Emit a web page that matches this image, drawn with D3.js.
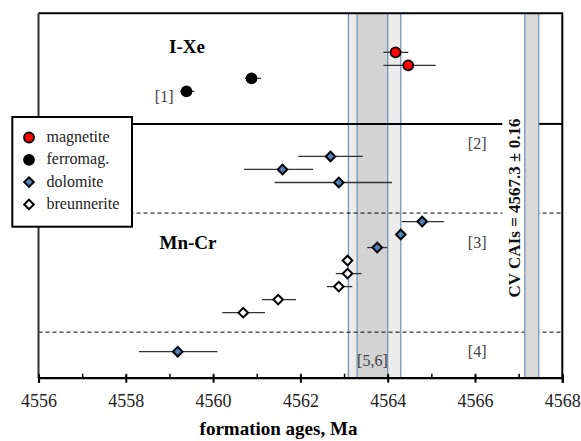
<!DOCTYPE html>
<html>
<head>
<meta charset="utf-8">
<script src="https://cdn.jsdelivr.net/npm/d3@7"></script>
<style>
  body { margin: 0; background: #fff; }
  svg text { font-family: "Liberation Serif", "Times New Roman", Times, serif; }
</style>
</head>
<body>
<div id="chart"></div>
<script>
// formation ages (Ma), row = vertical slot in the plot, errLo/errHi in Ma
const magnetiteAge = [4564.18, 4564.47];
const magnetiteRow = [25, 24];
const magnetiteErrLo = [0.28, 0.57];
const magnetiteErrHi = [0.29, 0.63];

const ferromagAge = [4559.39, 4560.88];
const ferromagRow = [22, 23];
const ferromagErrLo = [0.15, 0.15];
const ferromagErrHi = [0.18, 0.22];

const dolomiteAge = [4562.69, 4561.59, 4562.88, 4564.79, 4564.30, 4563.76, 4559.19];
const dolomiteRow = [17, 16, 15, 12, 11, 10, 2];
const dolomiteErrLo = [0.74, 0.88, 1.47, 0.47, 0.1, 0.23, 0.89];
const dolomiteErrHi = [0.74, 0.70, 1.22, 0.50, 0.1, 0.23, 0.91];

const breunAge = [4563.08, 4563.08, 4562.88, 4561.49, 4560.69];
const breunRow = [9, 8, 7, 6, 5];
const breunErrLo = [0.0, 0.27, 0.27, 0.37, 0.48];
const breunErrHi = [0.0, 0.32, 0.31, 0.41, 0.50];

const legendNames = ["magnetite", "ferromag.", "dolomite", "breunnerite"];
const xTicks = [4556, 4558, 4560, 4562, 4564, 4566, 4568];

// reference bands: [5,6] and CV CAIs = 4567.3 +- 0.16
const band56Outer = [4563.1, 4564.3];
const band56Inner = [4563.3, 4564.0];
const caiAge = 4567.3, caiErr = 0.16;

const serif = '"Liberation Serif", "Times New Roman", Times, serif';
const width = 581, height = 441;
const svg = d3.select("#chart").append("svg")
    .attr("width", width).attr("height", height)
    .style("font-family", serif);

const x = d3.scaleLinear().domain([4556, 4568]).range([38.5, 562.3]);
const y = d3.scaleLinear().domain([0, 28]).range([377.7, 13.3]);

const blueLine = "#6f8db5";

// bands
svg.append("rect")
    .attr("x", x(band56Outer[0])).attr("y", y(28))
    .attr("width", x(band56Outer[1]) - x(band56Outer[0]))
    .attr("height", y(0) - y(28))
    .attr("fill", "#ececec");
svg.append("rect")
    .attr("x", x(band56Inner[0])).attr("y", y(28))
    .attr("width", x(band56Inner[1]) - x(band56Inner[0]))
    .attr("height", y(0) - y(28))
    .attr("fill", "#d3d3d3");
svg.selectAll(".bandline")
    .data([band56Outer[0], band56Inner[0], band56Inner[1], band56Outer[1]])
    .enter().append("line")
    .attr("x1", d => x(d)).attr("x2", d => x(d))
    .attr("y1", y(28)).attr("y2", y(0))
    .attr("stroke", blueLine).attr("stroke-width", 1.2);

// separator lines
svg.append("line")
    .attr("x1", x(4556)).attr("x2", 502.5)
    .attr("y1", y(19.5)).attr("y2", y(19.5))
    .attr("stroke", "#000").attr("stroke-width", 2);
svg.append("line")
    .attr("x1", x(caiAge + caiErr)).attr("x2", x(4568))
    .attr("y1", y(19.5)).attr("y2", y(19.5))
    .attr("stroke", "#000").attr("stroke-width", 2);
svg.selectAll(".dash")
    .data([12.65, 3.5])
    .enter().append("line")
    .attr("x1", x(4556)).attr("x2", x(4568))
    .attr("y1", d => y(d)).attr("y2", d => y(d))
    .attr("stroke", "#000").attr("stroke-width", 1)
    .attr("stroke-dasharray", "4,3");

// white box behind CAI label
svg.append("rect")
    .attr("x", 502.5).attr("y", 116)
    .attr("width", x(caiAge - caiErr) - 502.5).attr("height", 186)
    .attr("fill", "#fff");

// CAI band
svg.append("rect")
    .attr("x", x(caiAge - caiErr)).attr("y", y(28))
    .attr("width", x(caiAge + caiErr) - x(caiAge - caiErr))
    .attr("height", y(0) - y(28))
    .attr("fill", "#d9d9d9");
svg.selectAll(".cailine")
    .data([caiAge - caiErr, caiAge + caiErr])
    .enter().append("line")
    .attr("x1", d => x(d)).attr("x2", d => x(d))
    .attr("y1", y(28)).attr("y2", y(0))
    .attr("stroke", blueLine).attr("stroke-width", 1.2);

svg.append("text")
    .attr("transform", `translate(${x(caiAge - caiErr) - 4.5},208) rotate(-90)`)
    .attr("text-anchor", "middle")
    .attr("font-size", 17).attr("font-weight", "bold")
    .attr("fill", "#111")
    .text("CV CAIs = 4567.3 \u00b1 0.16");

// frame: top, right
svg.append("path")
    .attr("d", `M${x(4556)},${y(28)}H${x(4568)}V${y(0)}`)
    .attr("fill", "none").attr("stroke", "#000").attr("stroke-width", 2);
svg.append("line")
    .attr("x1", x(4556)).attr("x2", x(4556))
    .attr("y1", y(28)).attr("y2", y(0))
    .attr("stroke", "#333").attr("stroke-width", 2);

// x axis: minor inside ticks + major crossing ticks
svg.append("g")
    .attr("transform", `translate(0,${y(0)})`)
    .call(d3.axisBottom(x).tickValues(d3.range(4556, 4569, 1)).tickSize(-4).tickFormat(""))
    .call(g => g.select(".domain").remove())
    .call(g => g.selectAll("line").attr("stroke", "#000").attr("stroke-width", 1.5));
const xAxis = svg.append("g")
    .attr("transform", `translate(0,${y(0)})`)
    .call(d3.axisBottom(x).tickValues(xTicks).tickSize(5).tickPadding(12).tickFormat(d3.format("d")))
    .attr("font-family", null);
xAxis.select(".domain").attr("stroke", "#000").attr("stroke-width", 2.2);
xAxis.selectAll(".tick line").attr("stroke", "#000").attr("stroke-width", 2)
    .attr("y1", -3);
xAxis.selectAll(".tick text")
    .style("font-family", serif)
    .attr("font-size", 18).attr("fill", "#222");

svg.append("text")
    .attr("x", 278.5).attr("y", 435)
    .attr("text-anchor", "middle")
    .attr("font-size", 19).attr("font-weight", "bold")
    .text("formation ages, Ma");

// group labels
svg.append("text").attr("x", 187).attr("y", 52.7)
    .attr("text-anchor", "middle").attr("font-size", 19).attr("font-weight", "bold")
    .text("I-Xe");
svg.append("text").attr("x", 188).attr("y", 249.3)
    .attr("text-anchor", "middle").attr("font-size", 19).attr("font-weight", "bold")
    .text("Mn-Cr");

// references
const refs = svg.append("g").attr("font-size", 16).attr("fill", "#404040");
refs.append("text").attr("x", x(ferromagAge[0]) - 13).attr("y", y(ferromagRow[0]) + 10.5)
    .attr("text-anchor", "end").text("[1]");
refs.append("text").attr("x", x(4566.05)).attr("y", y(17.6)).attr("text-anchor", "middle").text("[2]");
refs.append("text").attr("x", x(4566.05)).attr("y", y(10)).attr("text-anchor", "middle").text("[3]");
refs.append("text").attr("x", x(4566.05)).attr("y", y(1.6)).attr("text-anchor", "middle").text("[4]");
refs.append("text").attr("x", (x(band56Inner[0]) + x(band56Inner[1])) / 2).attr("y", y(0.87))
    .attr("text-anchor", "middle").text("[5,6]");

// series
const series = [
    {age: magnetiteAge, row: magnetiteRow, lo: magnetiteErrLo, hi: magnetiteErrHi, shape: "circle", fill: "#ff0000"},
    {age: ferromagAge, row: ferromagRow, lo: ferromagErrLo, hi: ferromagErrHi, shape: "circle", fill: "#000"},
    {age: dolomiteAge, row: dolomiteRow, lo: dolomiteErrLo, hi: dolomiteErrHi, shape: "diamond", fill: "#4f81bd"},
    {age: breunAge, row: breunRow, lo: breunErrLo, hi: breunErrHi, shape: "diamond", fill: "#fff"}
];

const diamond = d3.symbol().type(d3.symbolSquare).size(46);

function marker(sel, s, cx, cy) {
    if (s.shape === "circle") {
        sel.append("circle").attr("cx", cx).attr("cy", cy).attr("r", 5)
            .attr("fill", s.fill).attr("stroke", "#000").attr("stroke-width", 1.8);
    } else {
        sel.append("path").attr("d", diamond)
            .attr("transform", `translate(${cx},${cy}) rotate(45)`)
            .attr("fill", s.fill).attr("stroke", "#000").attr("stroke-width", 2);
    }
}

for (const s of series) {
    const g = svg.append("g");
    s.age.forEach((a, i) => {
        g.append("line")
            .attr("x1", x(a - s.lo[i])).attr("x2", x(a + s.hi[i]))
            .attr("y1", y(s.row[i])).attr("y2", y(s.row[i]))
            .attr("stroke", "#333").attr("stroke-width", 1.3);
    });
    s.age.forEach((a, i) => marker(g, s, x(a), y(s.row[i])));
}

// legend
const legend = svg.append("g");
legend.append("rect")
    .attr("x", 12.3).attr("y", 117).attr("width", 119.7).attr("height", 109.7)
    .attr("fill", "#fff").attr("stroke", "#000").attr("stroke-width", 2);
legendNames.forEach((name, i) => {
    const ly = 137.5 + i * 22.3;
    marker(legend, series[i], 29, ly);
    legend.append("text").attr("x", 46.5).attr("y", ly + 4.5)
        .attr("font-size", 16).attr("fill", "#222").text(name);
});
</script>
</body>
</html>
